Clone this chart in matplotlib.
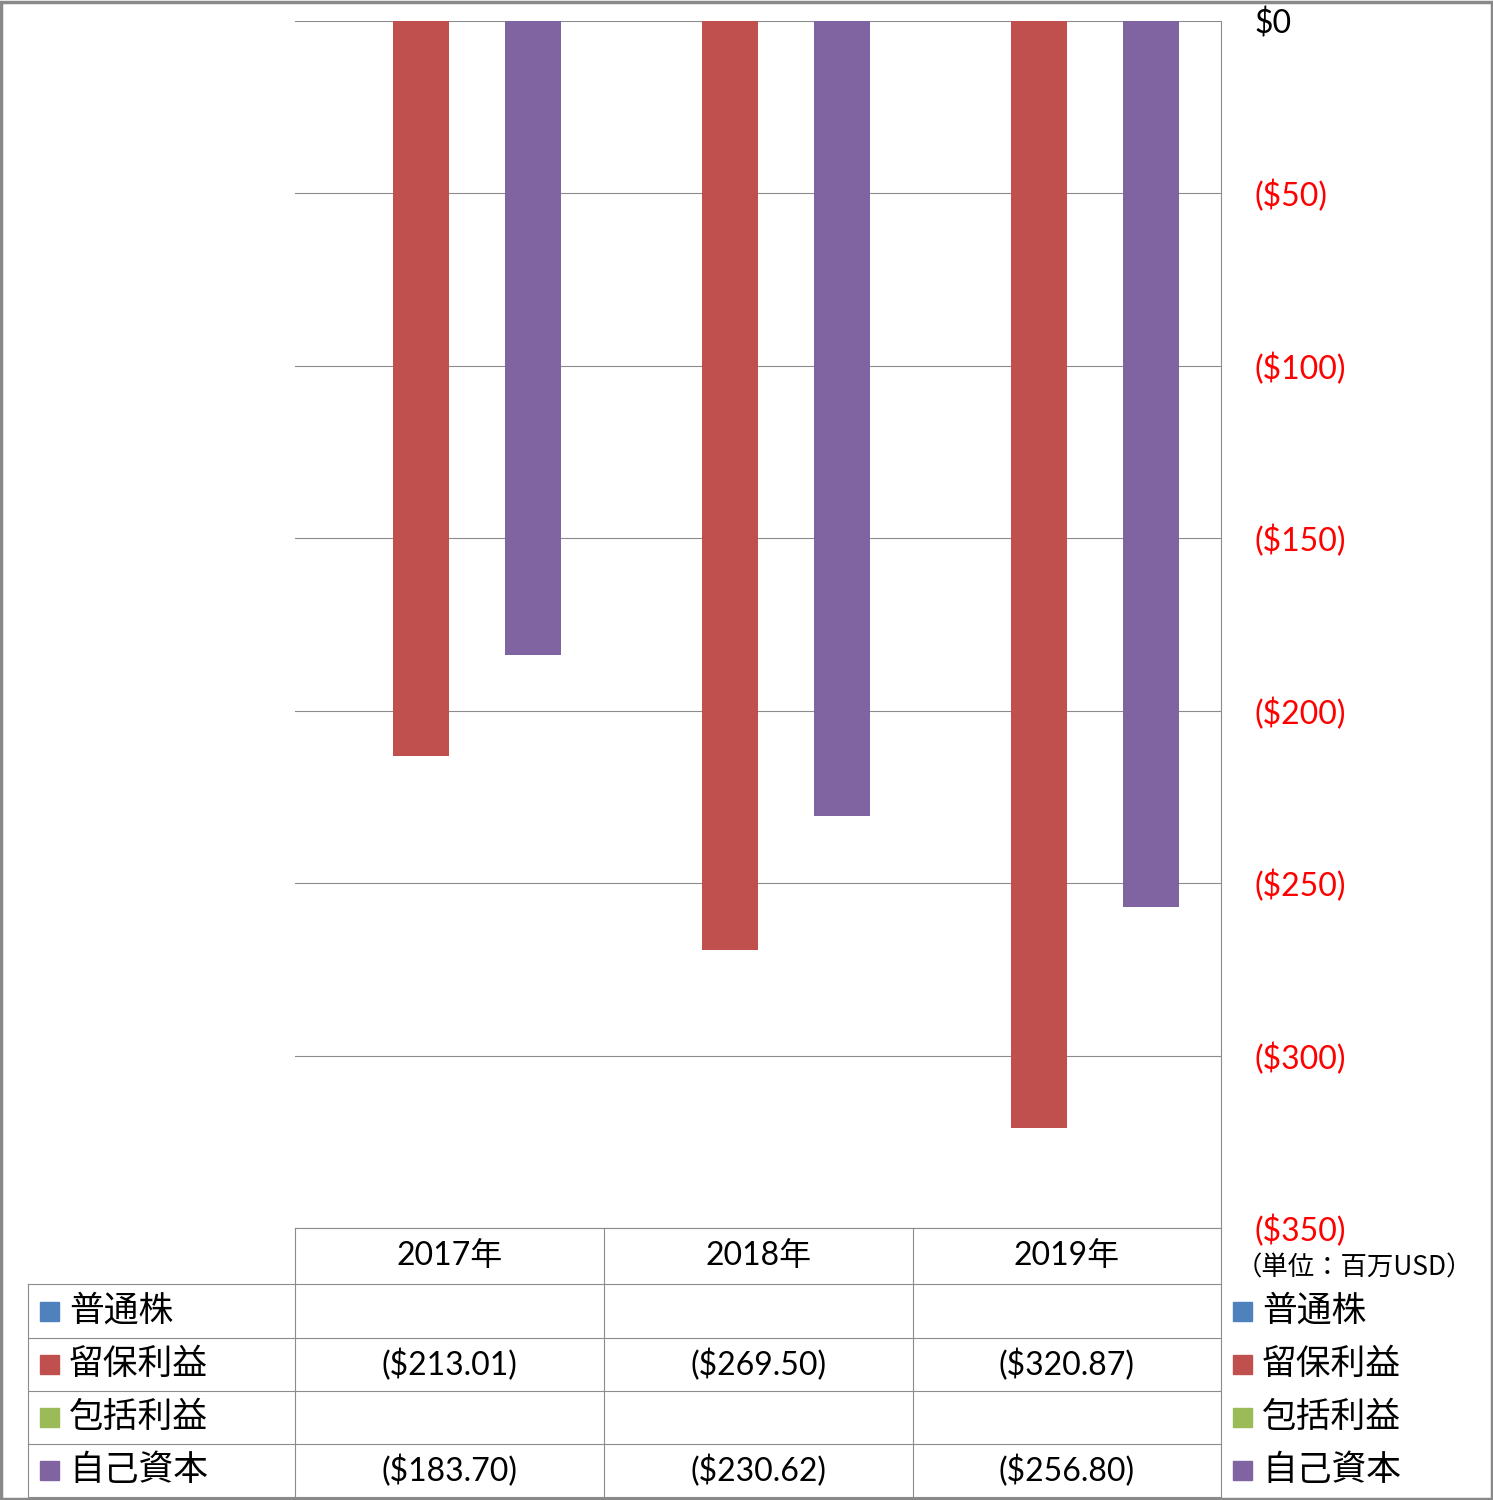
import matplotlib.pyplot as plt
from matplotlib.patches import Rectangle
from matplotlib.lines import Line2D

W, H = 1493, 1500

years = ['2017年', '2018年', '2019年']
series = ['普通株', '留保利益', '包括利益', '自己資本']
colors = ['#4F81BD', '#C0504D', '#9BBB59', '#8064A2']
common_stock = [None, None, None]
retained_earnings = [-213.01, -269.50, -320.87]
comprehensive_income = [None, None, None]
equity = [-183.70, -230.62, -256.80]
values = [common_stock, retained_earnings, comprehensive_income, equity]
yticks = [0, -50, -100, -150, -200, -250, -300, -350]

num_font = ['Lato', 'Noto Sans CJK JP']
jp_font = ['Noto Sans CJK JP', 'DejaVu Sans']
grid_c = '#8C8C8C'
fs = 23      # numbers
jfs = 25     # japanese labels


def fx(px):
    return px / W


def fy(py):
    return 1 - py / H


fig = plt.figure(figsize=(W / 100, H / 100), dpi=100)

# plot area in pixel coords of the reference
ax = fig.add_axes([fx(295), fy(1228), fx(1221) - fx(295), fy(21) - fy(1228)])
ax.set_xlim(-0.5, 2.5)
ax.set_ylim(-350, 0)

bw = 56 / 309
for i, (vals, c) in enumerate(zip(values, colors)):
    off = (i - 1.5) * bw
    for j, v in enumerate(vals):
        if v is None:
            continue
        ax.bar(j + off, v, width=bw, color=c, zorder=3)

ax.set_yticks(yticks)
ax.set_yticklabels(['$0' if t == 0 else f'(${abs(t)})' for t in yticks])
ax.yaxis.tick_right()
ax.tick_params(axis='y', length=0, pad=24, labelsize=fs)
for lab, t in zip(ax.get_yticklabels(), yticks):
    lab.set_color('black' if t == 0 else '#FF0000')
    lab.set_family(num_font)
ax.set_xticks([])
ax.grid(axis='y', color=grid_c, linewidth=0.8, zorder=0)
for s in ['left', 'top', 'bottom']:
    ax.spines[s].set_visible(False)
ax.spines['right'].set_color(grid_c)
ax.spines['right'].set_linewidth(0.8)

# data table below the plot
col_edges = [295, 604, 913, 1221]
row_edges = [1228, 1284, 1338, 1391, 1444, 1497]


def hline(y, x0, x1):
    fig.add_artist(Line2D([fx(x0), fx(x1)], [fy(y), fy(y)], color=grid_c, lw=0.8))


def vline(x, y0, y1):
    fig.add_artist(Line2D([fx(x), fx(x)], [fy(y0), fy(y1)], color=grid_c, lw=0.8))


hline(1228, 295, 1221)
for y in row_edges[1:]:
    hline(y, 28, 1221)
vline(28, 1284, 1497)
for x in col_edges:
    vline(x, 1228, 1497)

for j, yr in enumerate(years):
    cx = (col_edges[j] + col_edges[j + 1]) / 2
    fig.text(fx(cx), fy(1256), yr, ha='center', va='center', fontsize=fs, family=num_font)

for i, (name, c, vals) in enumerate(zip(series, colors, values)):
    cy = (row_edges[i + 1] + row_edges[i + 2]) / 2
    # row header
    fig.add_artist(Rectangle((fx(40), fy(cy + 9.5)), 19 / W, 19 / H, color=c))
    fig.text(fx(69), fy(cy), name, ha='left', va='center', fontsize=jfs, family=jp_font)
    # right legend
    fig.add_artist(Rectangle((fx(1233), fy(cy + 9.5)), 19 / W, 19 / H, color=c))
    fig.text(fx(1262), fy(cy), name, ha='left', va='center', fontsize=jfs, family=jp_font)
    for j, v in enumerate(vals):
        if v is None:
            continue
        cx = (col_edges[j] + col_edges[j + 1]) / 2
        fig.text(fx(cx), fy(cy), f'(${abs(v):.2f})', ha='center', va='center',
                 fontsize=fs, family=num_font)

fig.text(fx(1354), fy(1268), '（単位：百万USD）', ha='center', va='center',
         fontsize=19, family=jp_font)

# outer border
fig.add_artist(Rectangle((0.001, 0.001), 0.998, 0.998, fill=False, edgecolor='#898989', lw=2.5))

fig.savefig('out.png', dpi=100)
